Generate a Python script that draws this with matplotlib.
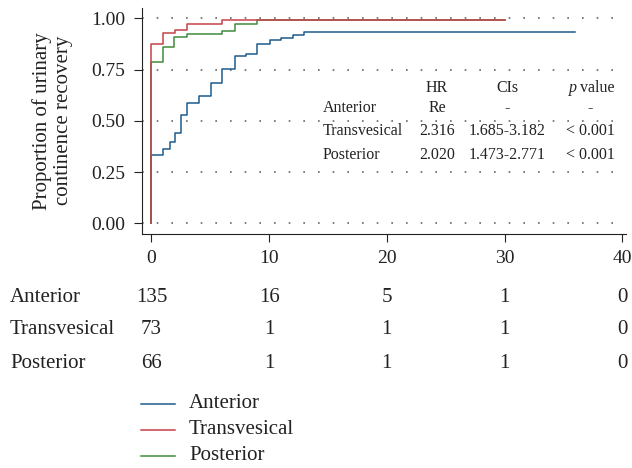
import matplotlib
matplotlib.use("Agg")
import matplotlib.pyplot as plt
from matplotlib.lines import Line2D

plt.rcParams['font.family'] = ['Liberation Serif', 'DejaVu Serif']

# Kaplan-Meier style step data (time, cumulative proportion)
ant_t = [0, 0, 1, 1.56, 2.04, 2.55, 3, 4, 5.07, 6, 7.1, 8.04, 9, 10.05, 11.05, 12.04, 13, 36]
ant_y = [0, 0.332, 0.361, 0.397, 0.44, 0.53, 0.589, 0.62, 0.686, 0.753, 0.815, 0.828, 0.873, 0.893, 0.906, 0.92, 0.932, 0.932]
tra_t = [0, 0, 1, 2, 3, 6, 30]
tra_y = [0, 0.877, 0.93, 0.945, 0.971, 0.99, 0.99]
pos_t = [0, 0, 1, 1.9, 3, 6, 7.1, 9, 30]
pos_y = [0, 0.788, 0.86, 0.909, 0.925, 0.938, 0.971, 0.99, 0.99]

groups = ["Anterior", "Transvesical", "Posterior"]
colors = ["#1d5b8c", "#c8404a", "#3f8a3a"]
risk_times = [0, 10, 20, 30, 40]
risk_counts = {
    "Anterior": [135, 16, 5, 1, 0],
    "Transvesical": [73, 1, 1, 1, 0],
    "Posterior": [66, 1, 1, 1, 0],
}
table_header = ["HR", "CIs", "p value"]
table_rows = [
    ["Anterior", "Re", "-", "-"],
    ["Transvesical", "2.316", "1.685-3.182", "< 0.001"],
    ["Posterior", "2.020", "1.473-2.771", "< 0.001"],
]
yticks = [0, 0.25, 0.5, 0.75, 1.0]
xticks = [0, 10, 20, 30, 40]

TXT = "#222222"
fig = plt.figure(figsize=(6.32, 4.68), dpi=100)
ax = fig.add_axes([0.2247, 0.501, 0.7654, 0.4818])

for gy in yticks:
    ax.axhline(gy, color="#666666", lw=1.2, ls=(0, (1.0, 7.8)), zorder=0)

for t, y, c in [(ant_t, ant_y, colors[0]), (pos_t, pos_y, colors[2]), (tra_t, tra_y, colors[1])]:
    ax.step(t, y, where="post", color=c, lw=1.1)

ax.set_xlim(-0.8, 40.3)
ax.set_ylim(-0.05, 1.05)
ax.set_yticks(yticks)
ax.set_yticklabels([f"{v:.2f}" for v in yticks])
ax.set_xticks(xticks)
ax.spines['top'].set_visible(False)
ax.spines['right'].set_visible(False)
ax.spines['left'].set_color(TXT)
ax.spines['bottom'].set_color(TXT)
ax.tick_params(direction='out', length=6, labelsize=14, colors=TXT, pad=6)
ax.set_ylabel("Proportion of urinary\ncontinence recovery", fontsize=15, color=TXT, linespacing=1.1)
ax.yaxis.set_label_coords(-0.143, 0.5)

def fx(X):
    return X / 632
def fy(Y):
    return 1 - Y / 468

# HR table inside plot
TS = 11.5
hdr_x = [437, 507, 590]
fig.text(fx(hdr_x[0]), fy(88), table_header[0], ha='center', va='center', fontsize=TS, color=TXT)
fig.text(fx(hdr_x[1]), fy(88), table_header[1], ha='center', va='center', fontsize=TS, color=TXT)
p_word, v_word = table_header[2].split(" ")
fig.text(fx(573), fy(88), p_word, ha='center', va='center', fontsize=TS, style='italic', color=TXT)
fig.text(fx(597), fy(88), v_word, ha='center', va='center', fontsize=TS, color=TXT)
row_Y = [108, 131, 155]
for Y, row in zip(row_Y, table_rows):
    fig.text(fx(323), fy(Y), row[0], ha='left', va='center', fontsize=TS, color=TXT)
    for X, val in zip(hdr_x, row[1:]):
        fig.text(fx(X), fy(Y), val, ha='center', va='center', fontsize=TS, color=TXT)

# Number at risk table
RS = 15
risk_Y = [297, 330, 363]
for Y, g in zip(risk_Y, groups):
    fig.text(fx(10), fy(Y), g, ha='left', va='center', fontsize=RS, color=TXT)
    for t, n in zip(risk_times, risk_counts[g]):
        xdisp = ax.transData.transform((t, 0))[0]
        fig.text(xdisp / 632, fy(Y), str(n), ha='center', va='center', fontsize=RS, color=TXT)

# Legend
leg_Y = [404, 430, 456]
for Y, g, c in zip(leg_Y, groups, colors):
    fig.add_artist(Line2D([fx(141), fx(175)], [fy(Y), fy(Y)], color=c, lw=1.1))
    fig.text(fx(189), fy(Y), g, ha='left', va='center', fontsize=RS, color=TXT)

fig.savefig("out.png", dpi=100)
